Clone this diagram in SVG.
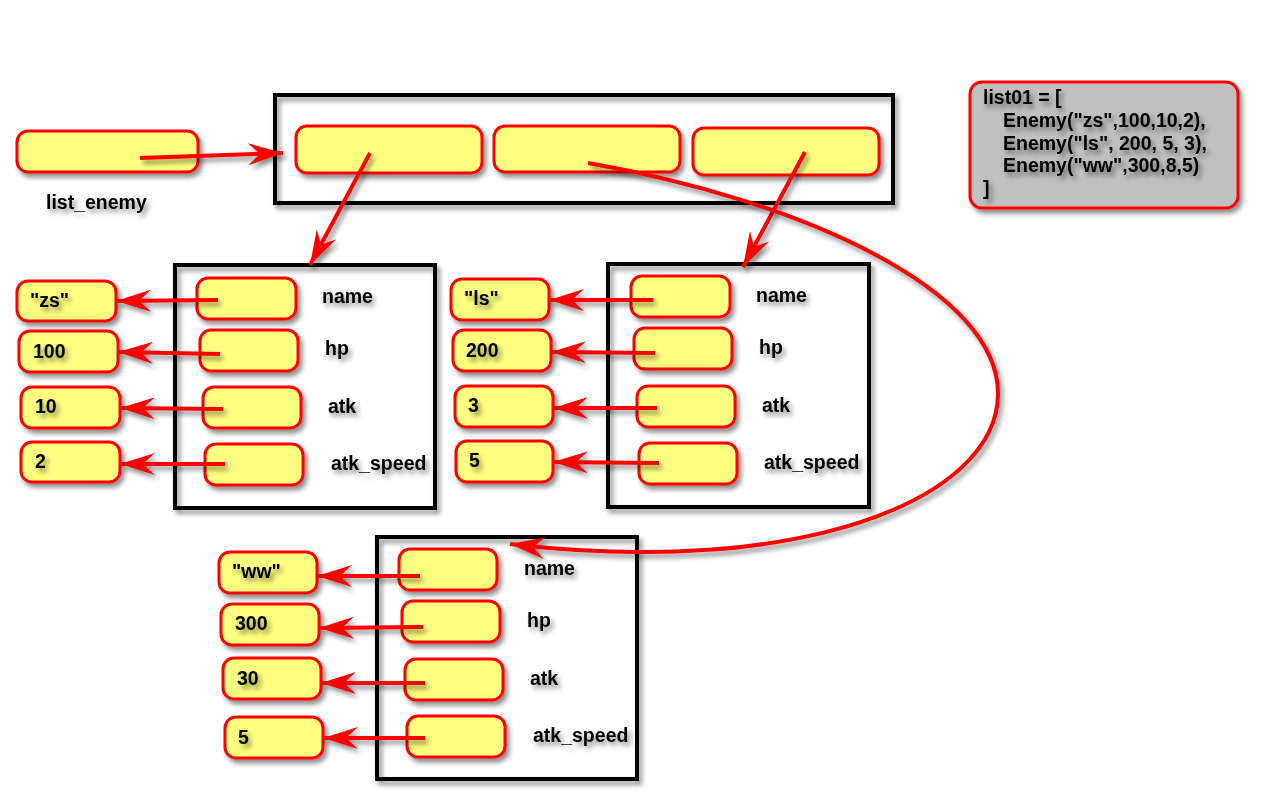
<svg xmlns="http://www.w3.org/2000/svg" width="1265" height="800" viewBox="0 0 1265 800">
<defs>
<filter id="sh" filterUnits="userSpaceOnUse" x="0" y="0" width="1265" height="800">
<feDropShadow dx="3" dy="4" stdDeviation="2.5" flood-color="#000" flood-opacity="0.45"/>
</filter>
<marker id="ah" markerUnits="userSpaceOnUse" markerWidth="40" markerHeight="26" viewBox="-36 -13 38 26" refX="0" refY="0" orient="auto">
<path d="M0,0 L-35,-11 L-23,0 L-35,11 Z" fill="#ff0000"/>
</marker>
<style>
.v{fill:#ffff80;stroke:#ff0000;stroke-width:3;filter:url(#sh)}
.c{fill:none;stroke:#000;stroke-width:4;filter:url(#sh)}
.t{font-family:"Liberation Sans",Arial,sans-serif;font-weight:bold;font-size:19.5px;fill:#000;filter:url(#sh)}
.a{fill:none;stroke:#ff0000;stroke-width:4;marker-end:url(#ah);filter:url(#sh)}
</style>
</defs>
<rect width="1265" height="800" fill="#fff"/>

<g id="list_enemy">
<rect class="v" x="17" y="131" width="181" height="41" rx="11"/>
<text class="t" x="46" y="209">list_enemy</text>
</g>

<g id="list_container">
<rect class="c" x="275" y="95" width="618" height="108"/>
<rect class="v" x="296" y="126" width="186" height="47" rx="11"/>
<rect class="v" x="494" y="126" width="186" height="46" rx="11"/>
<rect class="v" x="693" y="128" width="186" height="47" rx="11"/>
</g>

<g id="code">
<rect x="970" y="82" width="268" height="126" rx="12" fill="#c0c0c0" stroke="#ff0000" stroke-width="3" filter="url(#sh)"/>
<text class="t" x="983" y="104">list01 = [</text>
<text class="t" x="1003" y="127">Enemy("zs",100,10,2),</text>
<text class="t" x="1003" y="150">Enemy("ls", 200, 5, 3),</text>
<text class="t" x="1003" y="172">Enemy("ww",300,8,5)</text>
<text class="t" x="983" y="195">]</text>
</g>

<g id="enemy_zs">
<rect class="c" x="175" y="265" width="260" height="243"/>
<rect class="v" x="197" y="278" width="99" height="41" rx="11"/>
<rect class="v" x="200" y="330" width="98" height="41" rx="11"/>
<rect class="v" x="203" y="387" width="98" height="41" rx="11"/>
<rect class="v" x="205" y="444" width="98" height="41" rx="11"/>
<text class="t" x="322" y="303">name</text>
<text class="t" x="325" y="355">hp</text>
<text class="t" x="328" y="413">atk</text>
<text class="t" x="331" y="470">atk_speed</text>
</g>
<g id="values_zs">
<rect class="v" x="17" y="281" width="99" height="40" rx="11"/>
<rect class="v" x="19" y="331" width="99" height="41" rx="11"/>
<rect class="v" x="21" y="387" width="99" height="41" rx="11"/>
<rect class="v" x="21" y="442" width="99" height="40" rx="11"/>
<text class="t" x="30" y="307">"zs"</text>
<text class="t" x="33" y="358">100</text>
<text class="t" x="35" y="413">10</text>
<text class="t" x="35" y="468">2</text>
</g>

<g id="enemy_ls">
<rect class="c" x="608" y="264" width="261" height="243"/>
<rect class="v" x="631" y="276" width="99" height="41" rx="11"/>
<rect class="v" x="634" y="328" width="98" height="41" rx="11"/>
<rect class="v" x="637" y="386" width="98" height="41" rx="11"/>
<rect class="v" x="639" y="443" width="98" height="41" rx="11"/>
<text class="t" x="756" y="302">name</text>
<text class="t" x="759" y="354">hp</text>
<text class="t" x="762" y="412">atk</text>
<text class="t" x="764" y="469">atk_speed</text>
</g>
<g id="values_ls">
<rect class="v" x="451" y="279" width="98" height="41" rx="11"/>
<rect class="v" x="453" y="330" width="98" height="41" rx="11"/>
<rect class="v" x="455" y="386" width="98" height="41" rx="11"/>
<rect class="v" x="456" y="441" width="97" height="41" rx="11"/>
<text class="t" x="464" y="305">"ls"</text>
<text class="t" x="466" y="357">200</text>
<text class="t" x="468" y="412">3</text>
<text class="t" x="469" y="467">5</text>
</g>

<g id="enemy_ww">
<rect class="c" x="377" y="537" width="260" height="242"/>
<rect class="v" x="399" y="549" width="98" height="41" rx="11"/>
<rect class="v" x="402" y="601" width="98" height="41" rx="11"/>
<rect class="v" x="405" y="659" width="98" height="41" rx="11"/>
<rect class="v" x="407" y="716" width="98" height="41" rx="11"/>
<text class="t" x="524" y="575">name</text>
<text class="t" x="527" y="627">hp</text>
<text class="t" x="530" y="685">atk</text>
<text class="t" x="533" y="742">atk_speed</text>
</g>
<g id="values_ww">
<rect class="v" x="219" y="552" width="98" height="41" rx="11"/>
<rect class="v" x="221" y="604" width="98" height="41" rx="11"/>
<rect class="v" x="223" y="658" width="98" height="41" rx="11"/>
<rect class="v" x="225" y="717" width="98" height="41" rx="11"/>
<text class="t" x="232" y="578">"ww"</text>
<text class="t" x="235" y="630">300</text>
<text class="t" x="237" y="685">30</text>
<text class="t" x="238" y="744">5</text>
</g>

<g id="connectors">
<path class="a" d="M140,158 L283,153"/>
<path class="a" d="M370,153 L310,265"/>
<path class="a" d="M805,152 L743,267"/>
<path class="a" d="M588,163 C800,200 1000,290 998,395 C996,500 800,578 510,544"/>
<path class="a" d="M218,300 L116,301"/>
<path class="a" d="M220,354 L118,352"/>
<path class="a" d="M223,409 L120,408"/>
<path class="a" d="M225,464 L120,464"/>
<path class="a" d="M653,300 L549,300"/>
<path class="a" d="M655,353 L551,352"/>
<path class="a" d="M657,408 L553,408"/>
<path class="a" d="M659,463 L553,462"/>
<path class="a" d="M420,576 L317,576"/>
<path class="a" d="M423,627 L319,628"/>
<path class="a" d="M425,683 L321,683"/>
<path class="a" d="M425,738 L323,738"/>
</g>
</svg>
